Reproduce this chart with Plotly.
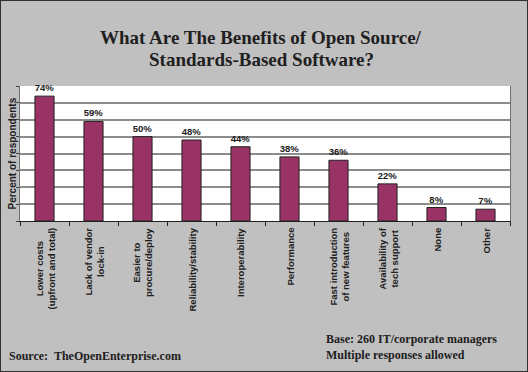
import plotly.graph_objects as go

categories = ["Lower costs<br>(upfront and total)", "Lack of vendor<br>lock-in", "Easier to<br>procure/deploy",
              "Reliability/stability", "Interoperability", "Performance",
              "Fast introduction<br>of new features", "Availability of<br>tech support", "None", "Other"]
values = [74, 59, 50, 48, 44, 38, 36, 22, 8, 7]
title_lines = ["What Are The Benefits of Open Source/", "Standards-Based Software?"]

W, H = 528, 372
L, R, T, B = 20, 18, 86, 151
pw, ph = W - L - R, H - T - B


def py(pix):
    """pixel row (from top of figure) -> paper y"""
    return (H - B - pix) / ph


def px(pix):
    return (pix - L) / pw


fig = go.Figure()
fig.add_trace(go.Bar(
    x=list(range(len(categories))), y=values,
    marker=dict(color="#993366", line=dict(color="#202020", width=1)),
    width=0.39,
    texttemplate="<b>%{y}%</b>", textposition="outside", cliponaxis=False, constraintext="none",
    textfont=dict(family="Liberation Sans, Arial", size=9.5, color="#202020"),
))

annotations = []
for i, c in enumerate(categories):
    annotations.append(dict(
        x=i, y=0, xref="x", yref="paper", text="<b>%s</b>" % c, textangle=-90,
        showarrow=False, xanchor="center", yanchor="top", yshift=-5, align="center",
        font=dict(family="Liberation Sans, Arial", size=9.5, color="#202020")))

for t, yy in zip(title_lines, [37, 60]):
    annotations.append(dict(x=px(261), y=py(yy), xref="paper", yref="paper", text="<b>%s</b>" % t,
                            showarrow=False, xanchor="center", yanchor="middle",
                            font=dict(family="Liberation Serif, Times New Roman", size=19, color="#202020")))

annotations.append(dict(x=px(12), y=0.5, xref="paper", yref="paper", text="<b>Percent of respondents</b>",
                        textangle=-90, showarrow=False, xanchor="center", yanchor="middle",
                        font=dict(family="Liberation Sans, Arial", size=10, color="#202020")))
annotations.append(dict(x=px(7), y=py(356), xref="paper", yref="paper",
                        text="<b>Source:  TheOpenEnterprise.com</b>", showarrow=False,
                        xanchor="left", yanchor="middle",
                        font=dict(family="Liberation Serif, Times New Roman", size=12, color="#202020")))
annotations.append(dict(x=px(324), y=py(347), xref="paper", yref="paper",
                        text="<b>Base: 260 IT/corporate managers<br>Multiple responses allowed</b>", showarrow=False,
                        xanchor="left", yanchor="middle", align="left",
                        font=dict(family="Liberation Serif, Times New Roman", size=12, color="#202020")))

fig.update_layout(
    width=W, height=H, margin=dict(l=L, r=R, t=T, b=B),
    paper_bgcolor="#c0c0c0", plot_bgcolor="#ffffff",
    showlegend=False,
    xaxis=dict(range=[-0.5, 9.5], showticklabels=False, tickmode="array",
               tickvals=[i + 0.5 for i in range(-1, 10)], ticks="outside", ticklen=4,
               tickcolor="#202020", showline=True, linecolor="#202020", linewidth=1,
               showgrid=False, zeroline=False),
    yaxis=dict(range=[0, 80], dtick=10, showticklabels=False, ticks="outside", ticklen=3,
               tickcolor="#404040", showline=True, linecolor="#707070", linewidth=1, mirror=True,
               showgrid=True, gridcolor="#8c8c8c", gridwidth=1.5, zeroline=False),
    annotations=annotations,
    shapes=[dict(type="rect", xref="paper", yref="paper",
                 x0=-L / pw, x1=1 + R / pw, y0=-B / ph, y1=1 + T / ph,
                 line=dict(color="#303030", width=2))],
)
fig.write_html("out.html", config={"displayModeBar": False},
               post_script="document.body.style.margin='0';")
